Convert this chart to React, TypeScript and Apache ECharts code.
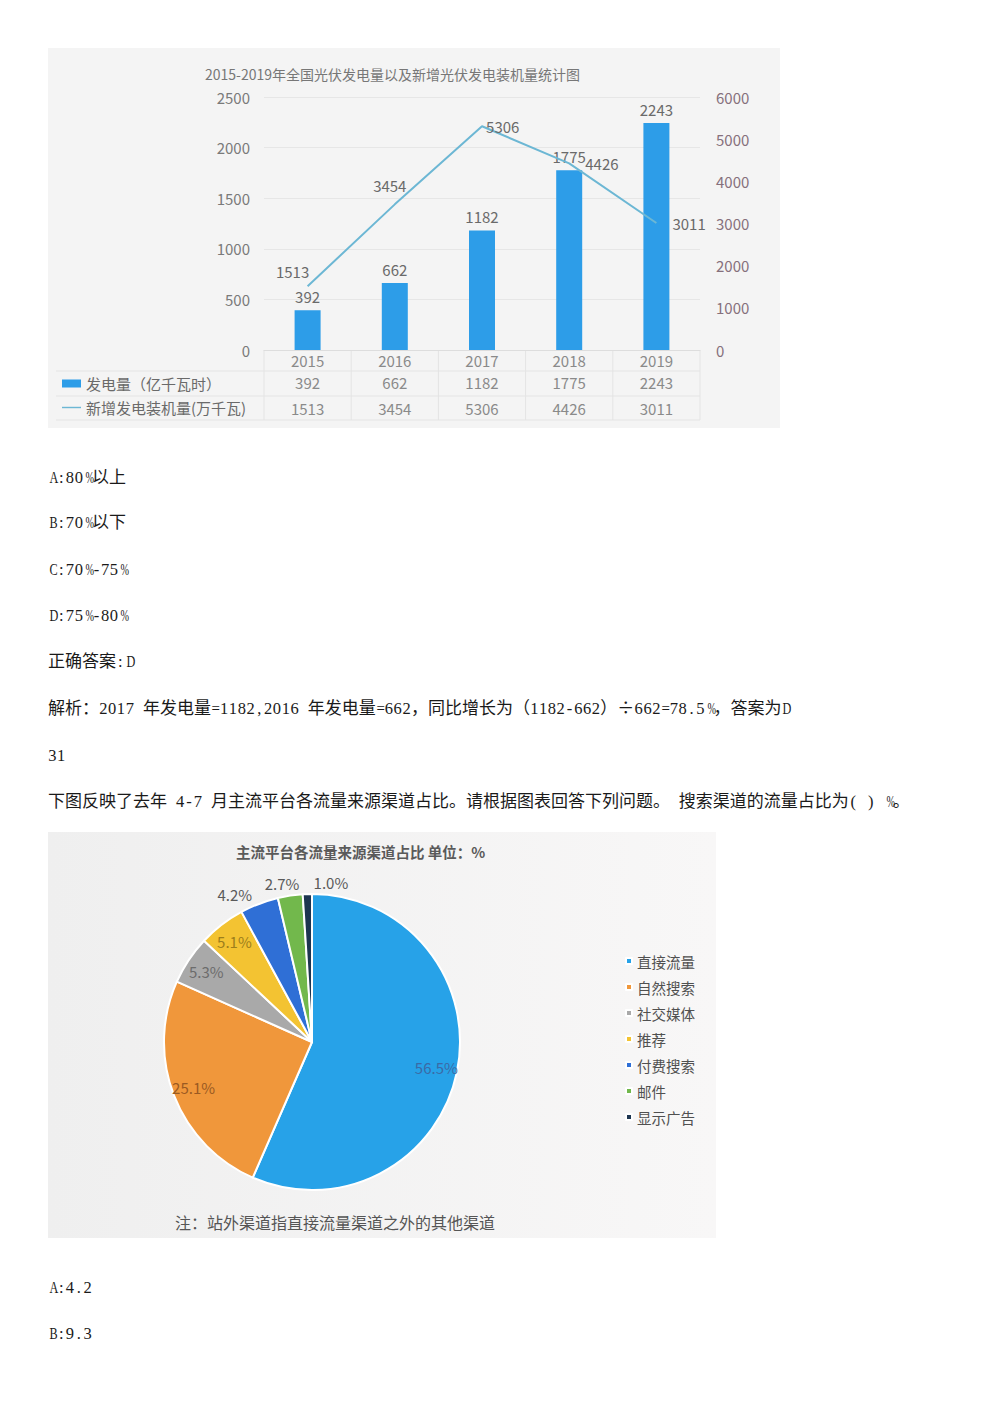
import * as echarts from "echarts";
import { useEffect, useRef } from "react";

const years = ["2015", "2016", "2017", "2018", "2019"];
const powerOutput = [392, 662, 1182, 1775, 2243];
const newCapacity = [1513, 3454, 5306, 4426, 3011];
const powerName = "发电量（亿千瓦时）";
const capacityName = "新增发电装机量(万千瓦)";

const channels = ["直接流量", "自然搜索", "社交媒体", "推荐", "付费搜索", "邮件", "显示广告"];
const channelShare = [56.5, 25.1, 5.3, 5.1, 4.2, 2.7, 1.0];

const channelColors = ["#27a2e8", "#f0973b", "#a9a9a9", "#f3c332", "#2f6fd6", "#72b84c", "#1d3550"];
const channelLabelColors = ["#3b6aa6", "#9a5a22", "#6c6c6c", "#9c7e1c", "#555", "#555", "#555"];
// nudges for the small outside labels (Excel style placement)
const outerLabelOffsets = [[0, 0], [0, 0], [0, 0], [0, 0], [-19, 5], [-6, 3], [24, 3]];

const chartFont = '"Noto Sans CJK SC", "Noto Sans", sans-serif';

const lines: { y: number; text: string }[] = [
	{ y: 476, text: "A:80%以上" },
	{ y: 521, text: "B:70%以下" },
	{ y: 568, text: "C:70%-75%" },
	{ y: 614, text: "D:75%-80%" },
	{ y: 660, text: "正确答案:D" },
	{ y: 707, text: "解析：2017 年发电量=1182,2016 年发电量=662，同比增长为（1182-662）÷662=78.5%，答案为D" },
	{ y: 754, text: "31" },
	{ y: 800, text: "下图反映了去年 4-7 月主流平台各流量来源渠道占比。请根据图表回答下列问题。 搜索渠道的流量占比为( ) %。" },
	{ y: 1286, text: "A:4.2" },
	{ y: 1332, text: "B:9.3" }
];

const pct = (p: any) => `${Number(p.value).toFixed(1)}%`;

// squeeze wide latin glyphs into a half-width cell
function squeeze(ch: string) {
	if (ch === "%") return 0.62;
	if (/[A-Z]/.test(ch)) return 0.74;
	if (ch === "=") return 0.9;
	return 1;
}

// half-width cells for ASCII, like the song-style font of the page
function TextLine({ y, text }: { y: number; text: string }) {
	return (
		<div
			style={{
				position: "absolute",
				left: 48,
				top: y - 11,
				lineHeight: "22px",
				fontSize: 17,
				fontFamily: '"Noto Sans CJK SC", sans-serif',
				color: "#1a1a1a",
				whiteSpace: "pre"
			}}
		>
			{Array.from(text).map((ch, i) =>
				ch.charCodeAt(0) < 128 ? (
					<span
						key={i}
						style={{
							display: "inline-block",
							width: 8.8,
							textAlign: "center",
							fontFamily: '"Liberation Serif", serif',
							fontSize: 16.5
						}}
					>
						<span style={{ display: "inline-block", transform: `scaleX(${squeeze(ch)})` }}>{ch}</span>
					</span>
				) : (
					<span key={i}>{ch}</span>
				)
			)}
		</div>
	);
}

function PowerChart() {
	const ref = useRef<HTMLDivElement>(null);

	useEffect(() => {
		if (!ref.current) return;
		const chart = echarts.init(ref.current, undefined, { renderer: "svg" });

		const gridLeft = 216;
		const gridRight = 80;
		const width = 732;
		const axisY = 302;
		const right = width - gridRight;
		const colW = (right - gridLeft) / years.length;
		const tableLine = "#e4e4e4";

		const graphics: any[] = [];
		[323, 348, 372].forEach(y => {
			graphics.push({
				type: "line",
				shape: { x1: 8, y1: y, x2: right, y2: y },
				style: { stroke: tableLine, lineWidth: 1 },
				silent: true
			});
		});
		for (let i = 0; i <= years.length; i++) {
			const x = gridLeft + colW * i;
			graphics.push({
				type: "line",
				shape: { x1: x, y1: axisY, x2: x, y2: 372 },
				style: { stroke: tableLine, lineWidth: 1 },
				silent: true
			});
		}

		const tableAxis = (values: number[], offset: number) => ({
			type: "category",
			data: values.map(String),
			position: "bottom",
			offset,
			axisLine: { show: false },
			axisTick: { show: false },
			axisLabel: { color: "#8a8a8a", fontSize: 15, margin: 3 }
		});

		chart.setOption({
			animation: false,
			backgroundColor: "#f4f4f4",
			textStyle: { fontFamily: chartFont },
			title: {
				text: "2015-2019年全国光伏发电量以及新增光伏发电装机量统计图",
				left: 152,
				top: 14,
				textStyle: { fontSize: 14, fontWeight: "normal", color: "#777" }
			},
			legend: {
				orient: "vertical",
				left: 9,
				top: 323,
				itemWidth: 19,
				itemHeight: 8,
				itemGap: 9,
				data: [
					{ name: powerName, icon: "rect" },
					{ name: capacityName, icon: "path://M0,0 L40,0 L40,3 L0,3 Z" }
				],
				textStyle: { color: "#6a6a6a", fontSize: 15 }
			},
			grid: { left: gridLeft, right: gridRight, top: 49, bottom: 78 },
			xAxis: [
				{
					type: "category",
					data: years,
					axisLine: { lineStyle: { color: "#dddddd" } },
					axisTick: { show: false },
					axisLabel: { color: "#8a8a8a", fontSize: 15, margin: 3 }
				},
				tableAxis(powerOutput, 22),
				tableAxis(newCapacity, 48)
			],
			yAxis: [
				{
					type: "value",
					min: 0,
					max: 2500,
					interval: 500,
					axisLine: { show: false },
					axisTick: { show: false },
					axisLabel: { color: "#7a7a7a", fontSize: 15, margin: 14, formatter: (v: number) => String(v) },
					splitLine: { lineStyle: { color: "#e6e6e6" } }
				},
				{
					type: "value",
					min: 0,
					max: 6000,
					interval: 1000,
					axisLine: { show: false },
					axisTick: { show: false },
					axisLabel: { color: "#86707c", fontSize: 15, margin: 16, formatter: (v: number) => String(v) },
					splitLine: { show: false }
				}
			],
			series: [
				{
					name: powerName,
					type: "bar",
					data: powerOutput,
					barWidth: 26,
					itemStyle: { color: "#2d9de8" },
					label: { show: true, position: "top", distance: 6, color: "#6a6a6a", fontSize: 15 }
				},
				{
					name: capacityName,
					type: "line",
					yAxisIndex: 1,
					data: newCapacity.map((v, i) => ({
						value: v,
						label:
							i === 0
								? { position: "top", offset: [-15, -2] }
								: i === 1
									? { position: "top", offset: [-5, -6] }
									: { position: "right", distance: i === 2 ? 4 : 16 }
					})),
					symbol: "circle",
					symbolSize: 0.1,
					showSymbol: true,
					lineStyle: { color: "#6cb7d4", width: 2 },
					itemStyle: { color: "#6cb7d4" },
					label: { show: true, color: "#6a6a6a", fontSize: 15 }
				}
			],
			graphic: graphics
		});

		return () => chart.dispose();
	}, []);

	return <div ref={ref} style={{ position: "absolute", left: 48, top: 48, width: 732, height: 380 }} />;
}

function ChannelChart() {
	const ref = useRef<HTMLDivElement>(null);

	useEffect(() => {
		if (!ref.current) return;
		const chart = echarts.init(ref.current, undefined, { renderer: "svg" });

		const center = [264, 210];
		const smallStart = 4;

		chart.setOption({
			animation: false,
			backgroundColor: new echarts.graphic.LinearGradient(0, 0, 1, 0, [
				{ offset: 0, color: "#efefef" },
				{ offset: 1, color: "#f8f7f7" }
			]),
			textStyle: { fontFamily: chartFont },
			title: [
				{
					text: "主流平台各流量来源渠道占比 单位：%",
					left: 183,
					top: 7,
					textStyle: { fontSize: 14.5, fontWeight: "bold", color: "#5a5a5a" }
				},
				{
					text: "注：站外渠道指直接流量渠道之外的其他渠道",
					left: 122,
					top: 377,
					textStyle: { fontSize: 16, fontWeight: "normal", color: "#555" }
				}
			],
			legend: {
				orient: "vertical",
				left: 572,
				top: 116,
				itemWidth: 6,
				itemHeight: 6,
				itemGap: 10,
				icon: "rect",
				data: channels,
				textStyle: { color: "#505050", fontSize: 14.5, lineHeight: 16 }
			},
			series: [
				{
					type: "pie",
					center,
					radius: 148,
					startAngle: 90,
					avoidLabelOverlap: false,
					label: { show: false },
					labelLine: { show: false },
					itemStyle: { borderColor: "#ffffff", borderWidth: 2 },
					data: channels.map((name, i) => ({
						name,
						value: channelShare[i],
						itemStyle: { color: channelColors[i] }
					}))
				},
				{
					type: "pie",
					center,
					radius: [0, 248],
					startAngle: 90,
					silent: true,
					itemStyle: { color: "rgba(0,0,0,0)" },
					data: channels.map((name, i) => ({
						name,
						value: channelShare[i],
						label: { show: i < smallStart, color: channelLabelColors[i] }
					})),
					label: { position: "inside", formatter: pct, fontSize: 15 },
					labelLine: { show: false }
				},
				{
					type: "pie",
					center,
					radius: [0, 320],
					startAngle: 90,
					silent: true,
					itemStyle: { color: "rgba(0,0,0,0)" },
					data: channels.map((name, i) => ({
						name,
						value: channelShare[i],
						label: { show: i >= smallStart, offset: outerLabelOffsets[i] }
					})),
					label: { position: "inside", formatter: pct, fontSize: 15, color: "#5a5a5a" },
					labelLine: { show: false }
				}
			]
		});

		return () => chart.dispose();
	}, []);

	return <div ref={ref} style={{ position: "absolute", left: 48, top: 832, width: 668, height: 406 }} />;
}

export default function App() {
	return (
		<div style={{ position: "absolute", left: 0, top: 0, width: 1000, height: 1414, background: "#fff" }}>
			<PowerChart />
			{lines.map(l => (
				<TextLine key={l.y} y={l.y} text={l.text} />
			))}
			<ChannelChart />
		</div>
	);
}
